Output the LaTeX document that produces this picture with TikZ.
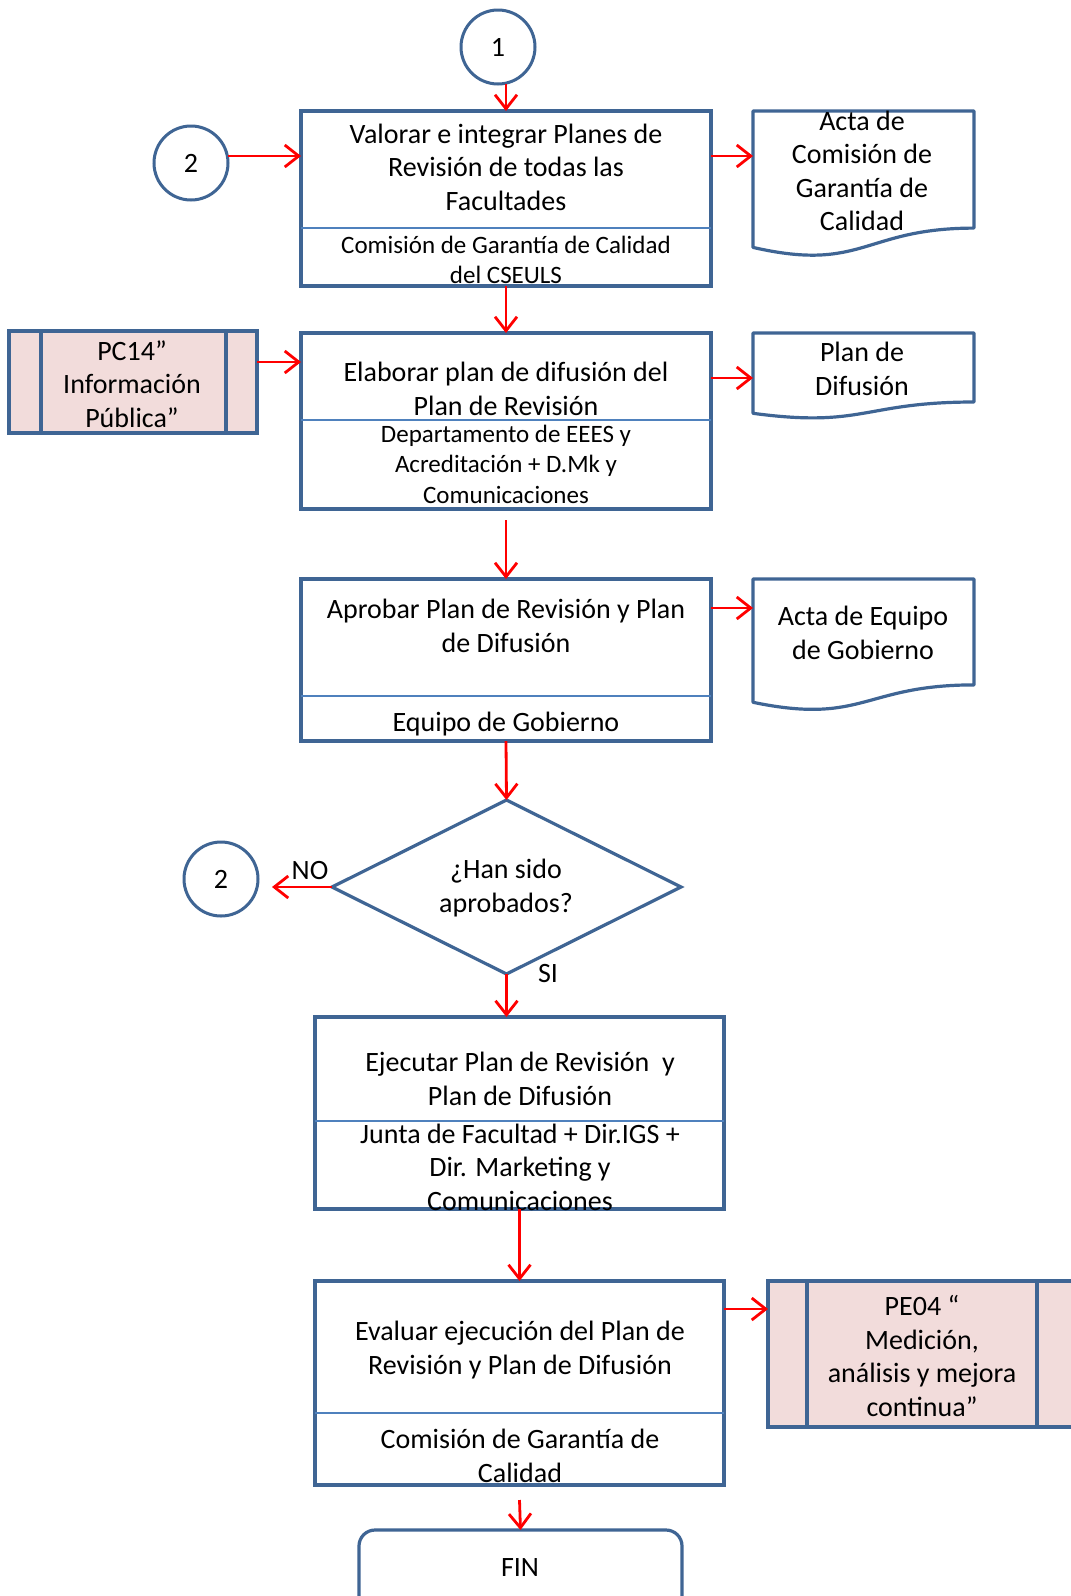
\documentclass[tikz,border=0pt]{standalone}
\usepackage{fontspec}
\setmainfont{Carlito}
\usetikzlibrary{arrows.meta,shapes.geometric}
\definecolor{bord}{HTML}{3F6594}
\definecolor{divc}{HTML}{4F81BD}
\definecolor{pinkf}{HTML}{F2DCDB}
\tikzset{
  box/.style={draw=bord, line width=3.2pt, inner sep=0pt, outer sep=0pt, anchor=north west},
  divline/.style={draw=divc, line width=2.8pt},
  inline/.style={draw=bord, line width=3.2pt},
  arr/.style={draw=red, line width=2.8pt, -{Straight Barb[length=14pt,width=22pt,line width=2.8pt]}},
  circ/.style={circle, draw=bord, line width=3pt, minimum size=74pt, inner sep=0pt, outer sep=0pt, font=\fontsize{28}{32}\selectfont},
  mtxt/.style={align=center, font=\fontsize{28}{33.5}\selectfont, inner sep=0pt},
  stxt/.style={align=center, font=\fontsize{25}{30.5}\selectfont, inner sep=0pt},
  docline/.style={draw=bord, line width=3.2pt, line join=round}
}
\begin{document}
\begin{tikzpicture}[x=1pt,y=-1pt]
\useasboundingbox (0,0) rectangle (1071,1596);
\fill[white] (0,0) rectangle (1071,1596);
\clip (0,0) rectangle (1071,1596);

% connectors circles
\node[circ] (c1) at (498,47) {1};
\node[circ] (c2) at (191,163) {2};
\node[circ] (c3) at (221,879) {2};

% process boxes
\node[box, minimum width=410pt, minimum height=175pt] (A) at (301,111) {};
\draw[divline] (A.west |- 0,228) -- (A.east |- 0,228);
\node[box, minimum width=410pt, minimum height=176pt] (B) at (301,333) {};
\draw[divline] (B.west |- 0,420) -- (B.east |- 0,420);
\node[box, minimum width=410pt, minimum height=162pt] (C) at (301,579) {};
\draw[divline] (C.west |- 0,696) -- (C.east |- 0,696);
\node[box, minimum width=409pt, minimum height=192pt] (D) at (315,1017) {};
\draw[divline] (D.west |- 0,1121) -- (D.east |- 0,1121);
\node[box, minimum width=409pt, minimum height=204pt] (E) at (315,1281) {};
\draw[divline] (E.west |- 0,1413) -- (E.east |- 0,1413);

% decision
\node[diamond, draw=bord, line width=3.2pt, minimum width=349pt, minimum height=174pt, inner sep=0pt, outer sep=0pt] (dm) at (506.5,887) {};

% subprocess boxes
\node[box, fill=pinkf, minimum width=248pt, minimum height=102pt] (pcb) at (9,331) {};
\draw[inline] (pcb.north -| 41,0) -- (pcb.south -| 41,0);
\draw[inline] (pcb.north -| 226,0) -- (pcb.south -| 226,0);
\node[box, fill=pinkf, minimum width=308pt, minimum height=146pt] (peb) at (768,1281) {};
\draw[inline] (peb.north -| 807,0) -- (peb.south -| 807,0);
\draw[inline] (peb.north -| 1037,0) -- (peb.south -| 1037,0);

% documents
\draw[docline] (753,111) -- (974,111) -- (974,228.1) .. controls (863.5,228.1) and (863.5,272.7) .. (753,247.4) -- cycle;
\draw[docline] (753,333) -- (974,333) -- (974,402) .. controls (863.5,402) and (863.5,428.2) .. (753,413.3) -- cycle;
\draw[docline] (753,579) -- (974,579) -- (974,684.9) .. controls (863.5,684.9) and (863.5,725.2) .. (753,702.3) -- cycle;
\coordinate (d1in) at (753,156);
\coordinate (d2in) at (753,378);
\coordinate (d3in) at (753,608);

% terminal
\node[box, rounded corners=16pt, minimum width=323pt, minimum height=100pt] (fin) at (359,1530) {};

% texts
\node[mtxt] (At) at (506,167) {Valorar e integrar Planes de\\Revisión de todas las\\Facultades};
\node[stxt] (Ab) at (506,260) {Comisión de Garantía de Calidad\\del CSEULS};
\node[mtxt] (Bt) at (506,389) {Elaborar plan de difusión del\\Plan de Revisión};
\node[stxt] (Bb) at (506,464) {Departamento de EEES y\\Acreditación + D.Mk y\\Comunicaciones};
\node[mtxt] (Ct) at (506,626) {Aprobar Plan de Revisión y Plan\\de Difusión};
\node[mtxt] (Cb) at (506,724) {Equipo de Gobierno};
\node[mtxt] (q) at (506,888) {¿Han sido\\aprobados?};
\node[mtxt] (no) at (310,870) {NO};
\node[mtxt] (si) at (548,973) {SI};
\node[mtxt] (Dt) at (520,1079) {Ejecutar Plan de Revisión\ \ y\\Plan de Difusión};
\node[mtxt] (Db) at (520,1167) {Junta de Facultad + Dir.IGS +\\Dir. Marketing y\\Comunicaciones};
\node[mtxt] (Et) at (520,1350) {Evaluar ejecución del Plan de\\Revisión y Plan de Difusión};
\node[mtxt] (Eb) at (520,1456) {Comisión de Garantía de\\Calidad};
\node[mtxt] (pet) at (922,1356) {PE04 “\\Medición,\\análisis y mejora\\continua”};
\node[mtxt] (pct) at (132,384) {PC14”\\Información\\Pública”};
\node[mtxt] (d1t) at (862,171) {Acta de\\Comisión de\\Garantía de\\Calidad};
\node[mtxt] (d2t) at (862,369) {Plan de\\Difusión};
\node[mtxt] (d3t) at (863,633) {Acta de Equipo\\de Gobierno};
\node[mtxt] (fint) at (520,1567) {FIN};

% arrows
\draw[arr] (A.north |- c1.south) -- (A.north);
\draw[arr] ([yshift=7pt]c2.east) -- ([yshift=7pt]c2.east -| A.west);
\draw[arr] (A.east |- d1in) -- (d1in);
\draw[arr] (A.south) -- (B.north);
\draw[arr] (pcb.east |- 0,362) -- (B.west |- 0,362);
\draw[arr] (B.east |- d2in) -- (d2in);
\draw[arr] ([yshift=-11pt]B.south) -- (C.north);
\draw[arr] (C.east |- d3in) -- (d3in);
\draw[arr] (C.south) -- (dm.north);
\draw[arr, shorten >=14pt] (dm.west) -- (dm.west -| c3.east);
\draw[arr] (dm.south) -- (dm.south |- D.north);
\draw[arr] (D.south) -- (E.north);
\draw[arr] (E.east |- 0,1309) -- (peb.west |- 0,1309);
\draw[arr] ([yshift=-15pt]E.south) -- (fin.north);
\end{tikzpicture}
\end{document}
